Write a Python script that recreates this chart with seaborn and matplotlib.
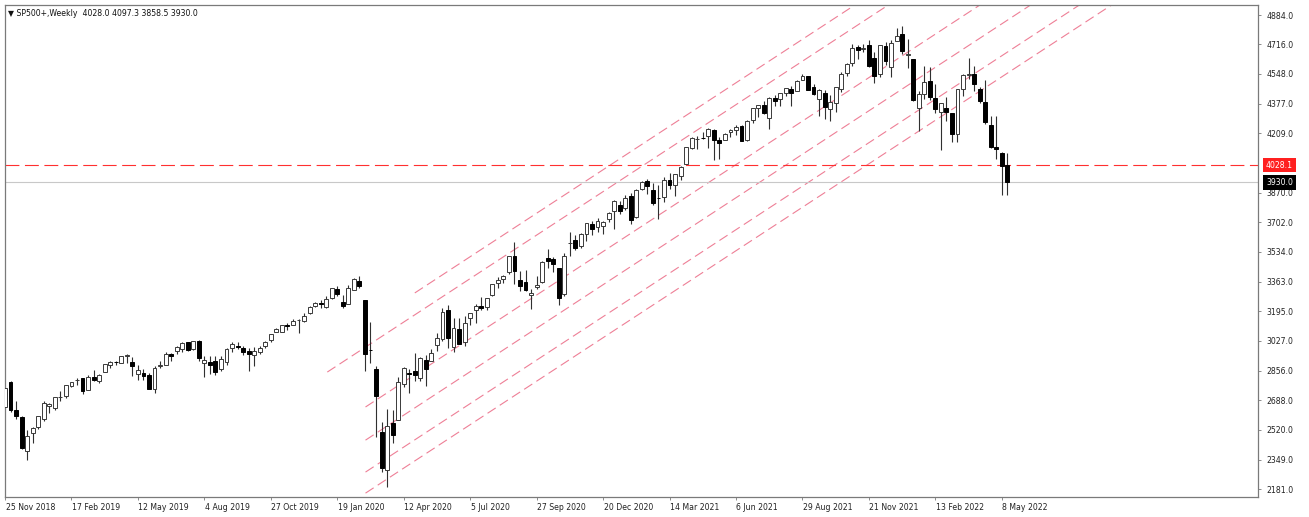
import numpy as np
import pandas as pd
import matplotlib
matplotlib.use("Agg")
import matplotlib.pyplot as plt
import matplotlib.transforms as mtransforms
import seaborn as sns

# ---------------- data (weekly candles, first week = 25 Nov 2018) ----------------
first_week = "2018-11-25"
opens = [2650, 2790, 2631, 2591, 2401, 2499, 2536, 2582, 2658, 2645,
         2706, 2712, 2769, 2804, 2814, 2748, 2823, 2796, 2849, 2888,
         2908, 2899, 2941, 2909, 2840, 2842, 2830, 2752, 2886, 2890,
         2951, 2971, 2980, 3018, 2982, 3024, 2898, 2907, 2913, 2867,
         2909, 2988, 2996, 2984, 2967, 2944, 2966, 2996, 3032, 3079,
         3080, 3118, 3117, 3144, 3142, 3184, 3226, 3240, 3218, 3271,
         3321, 3247, 3236, 3318, 3369, 3258, 2974, 2864, 2509, 2291,
         2559, 2578, 2782, 2846, 2855, 2815, 2915, 2914, 3004, 3039,
         3200, 2994, 3094, 3019, 3155, 3205, 3224, 3220, 3288, 3356,
         3381, 3418, 3510, 3372, 3364, 3286, 3334, 3360, 3500, 3494,
         3441, 3296, 3583, 3600, 3567, 3634, 3695, 3675, 3684, 3723,
         3765, 3803, 3782, 3852, 3731, 3893, 3940, 3886, 3843, 3844,
         3943, 3916, 3969, 4034, 4125, 4180, 4185, 4192, 4228, 4170,
         4170, 4217, 4229, 4249, 4173, 4285, 4356, 4372, 4296, 4410,
         4407, 4438, 4462, 4450, 4514, 4535, 4475, 4403, 4442, 4349,
         4385, 4464, 4554, 4611, 4701, 4689, 4712, 4640, 4548, 4710,
         4588, 4734, 4778, 4655, 4632, 4356, 4432, 4506, 4413, 4333,
         4354, 4323, 4203, 4462, 4541, 4548, 4462, 4386, 4255, 4131,
         4097, 4028.0]
highs = [2761, 2800, 2685, 2601, 2520, 2538, 2598, 2682, 2672, 2709,
         2743, 2776, 2795, 2813, 2817, 2831, 2860, 2836, 2893, 2911,
         2910, 2940, 2954, 2937, 2892, 2869, 2841, 2885, 2911, 2964,
         2955, 2996, 3018, 3018, 3028, 3029, 2943, 2943, 2939, 2940,
         2986, 3021, 3023, 2999, 2984, 2993, 3000, 3027, 3067, 3098,
         3120, 3128, 3154, 3151, 3183, 3226, 3248, 3258, 3283, 3330,
         3338, 3286, 3348, 3385, 3394, 3260, 3137, 2883, 2563, 2637,
         2632, 2819, 2879, 2869, 2955, 2934, 2944, 2980, 3069, 3212,
         3233, 3156, 3155, 3166, 3184, 3238, 3279, 3272, 3353, 3388,
         3400, 3509, 3588, 3426, 3429, 3320, 3394, 3482, 3550, 3502,
         3441, 3529, 3646, 3629, 3644, 3699, 3712, 3727, 3711, 3760,
         3827, 3824, 3861, 3871, 3894, 3937, 3950, 3929, 3915, 3960,
         3984, 3978, 4021, 4129, 4191, 4194, 4219, 4238, 4236, 4188,
         4213, 4234, 4255, 4257, 4286, 4355, 4372, 4394, 4415, 4430,
         4441, 4468, 4480, 4513, 4546, 4535, 4492, 4465, 4457, 4429,
         4475, 4559, 4608, 4719, 4714, 4718, 4744, 4673, 4714, 4732,
         4740, 4809, 4819, 4749, 4632, 4453, 4595, 4590, 4490, 4385,
         4417, 4327, 4465, 4546, 4637, 4593, 4471, 4513, 4308, 4308,
         4103, 4097.3]
lows = [2650, 2622, 2583, 2409, 2347, 2444, 2525, 2570, 2613, 2632,
        2682, 2701, 2765, 2775, 2722, 2747, 2800, 2786, 2849, 2873,
        2892, 2899, 2901, 2825, 2801, 2805, 2751, 2729, 2873, 2887,
        2912, 2952, 2963, 2970, 2977, 2914, 2822, 2840, 2835, 2856,
        2892, 2964, 2978, 2946, 2856, 2884, 2953, 2988, 3023, 3075,
        3078, 3091, 3117, 3070, 3134, 3182, 3222, 3212, 3215, 3268,
        3282, 3215, 3236, 3318, 3328, 2856, 2902, 2479, 2281, 2192,
        2447, 2578, 2765, 2727, 2798, 2798, 2767, 2914, 2969, 3025,
        2984, 2966, 3007, 3000, 3115, 3128, 3200, 3204, 3284, 3327,
        3355, 3410, 3350, 3310, 3313, 3209, 3323, 3354, 3440, 3419,
        3234, 3280, 3512, 3543, 3555, 3594, 3633, 3647, 3636, 3703,
        3663, 3749, 3774, 3694, 3725, 3884, 3865, 3804, 3723, 3819,
        3894, 3854, 3944, 4034, 4118, 4118, 4176, 4128, 4057, 4061,
        4170, 4188, 4198, 4164, 4164, 4271, 4300, 4318, 4233, 4363,
        4367, 4424, 4368, 4450, 4513, 4457, 4427, 4306, 4289, 4279,
        4329, 4447, 4537, 4595, 4631, 4672, 4585, 4495, 4532, 4600,
        4531, 4733, 4663, 4582, 4395, 4223, 4405, 4401, 4327, 4115,
        4279, 4158, 4162, 4424, 4518, 4450, 4381, 4262, 4124, 4063,
        3859, 3858.5]
closes = [2760, 2633, 2600, 2417, 2486, 2532, 2596, 2671, 2665, 2707,
          2708, 2776, 2793, 2804, 2743, 2822, 2801, 2834, 2893, 2907,
          2905, 2940, 2946, 2881, 2860, 2826, 2752, 2873, 2887, 2950,
          2942, 2990, 3014, 2977, 3026, 2932, 2919, 2889, 2847, 2926,
          2979, 3007, 2992, 2962, 2952, 2970, 2986, 3023, 3067, 3093,
          3120, 3110, 3141, 3146, 3169, 3221, 3240, 3235, 3265, 3330,
          3295, 3226, 3328, 3380, 3338, 2954, 2972, 2711, 2305, 2541,
          2489, 2790, 2875, 2837, 2831, 2930, 2864, 2955, 3044, 3194,
          3041, 3098, 3009, 3130, 3185, 3225, 3216, 3271, 3351, 3373,
          3397, 3508, 3427, 3341, 3319, 3298, 3348, 3477, 3484, 3465,
          3270, 3509, 3585, 3558, 3638, 3699, 3663, 3709, 3703, 3756,
          3825, 3768, 3841, 3714, 3887, 3935, 3907, 3811, 3842, 3943,
          3913, 3975, 4020, 4129, 4185, 4180, 4181, 4233, 4174, 4156,
          4204, 4230, 4247, 4166, 4281, 4352, 4370, 4327, 4412, 4395,
          4437, 4468, 4442, 4509, 4535, 4459, 4433, 4455, 4357, 4391,
          4471, 4545, 4605, 4698, 4683, 4698, 4595, 4538, 4712, 4621,
          4726, 4766, 4677, 4663, 4398, 4432, 4501, 4419, 4349, 4385,
          4329, 4204, 4463, 4543, 4546, 4488, 4393, 4272, 4132, 4123,
          4024, 3930.0]

x_labels = ["25 Nov 2018", "17 Feb 2019", "12 May 2019", "4 Aug 2019",
            "27 Oct 2019", "19 Jan 2020", "12 Apr 2020", "5 Jul 2020",
            "27 Sep 2020", "20 Dec 2020", "14 Mar 2021", "6 Jun 2021",
            "29 Aug 2021", "21 Nov 2021", "13 Feb 2022", "8 May 2022"]
y_ticks = [4884.0, 4716.0, 4548.0, 4377.0, 4209.0, 3870.0, 3702.0, 3534.0,
           3363.0, 3195.0, 3027.0, 2856.0, 2688.0, 2520.0, 2349.0, 2181.0]
header = "\u25BC SP500+,Weekly  4028.0 4097.3 3858.5 3930.0"
level_line = 4028.1
bid_price = 3930.0

# parallel channel lines: anchor week index, anchor price (slope shared)
chan_start_idx = [74.0, 58.2, 65.1, 65.1, 65.1, 65.1]
chan_start_price = [3300, 2849, 2650, 2461, 2279, 2159]
chan_slope = 20.65  # price per week

# ---------------- figure ----------------
sns.set_theme(style="white")
plt.rcParams["font.family"] = ["DejaVu Sans"]
plt.rcParams["lines.scale_dashes"] = False

W, H = 1309, 517
fig = plt.figure(figsize=(W / 100, H / 100), dpi=100, facecolor="white")
ax = fig.add_axes([5 / W, 20 / H, 1253 / W, 492 / H])
ax.set_facecolor("white")

df = pd.DataFrame({"open": opens, "high": highs, "low": lows, "close": closes})
df["idx"] = np.arange(len(df))
df["date"] = pd.date_range(first_week, periods=len(df), freq="7D")
bull = df["close"] >= df["open"]

px_per_bar = 5.54
ax.set_xlim((5 - 4.5) / px_per_bar, (1258 - 4.5) / px_per_bar)
ax.set_ylim(2137, 4941)

# wicks
ax.vlines(df["idx"], df["low"], df["high"], color="#303030", lw=0.8, zorder=2)
# bodies
ax.bar(df["idx"][bull], (df["close"] - df["open"])[bull], bottom=df["open"][bull],
       width=0.7, facecolor="white", edgecolor="#3a3a3a", lw=0.7, zorder=3)
ax.bar(df["idx"][~bull], (df["close"] - df["open"])[~bull], bottom=df["open"][~bull],
       width=0.7, facecolor="black", edgecolor="black", lw=0.7, zorder=3)

# channel lines
for s_i, s_p in zip(chan_start_idx, chan_start_price):
    e_i = s_i + 160
    ax.plot([s_i, e_i], [s_p, s_p + chan_slope * (e_i - s_i)], color="#EE7F96",
            lw=0.8, dashes=(7, 3.5), zorder=1)

# horizontal level and bid line
ax.axhline(level_line, color="#FF3030", lw=0.8, dashes=(10, 4), zorder=1)
ax.axhline(bid_price, color="#C8C8C8", lw=0.8, zorder=1)

# axes styling
for sp in ax.spines.values():
    sp.set_color("#7A7A7A")
    sp.set_linewidth(0.9)

ax.yaxis.tick_right()
ax.set_yticks(y_ticks)
ax.set_yticklabels([f"{v:.1f}" for v in y_ticks])
ax.tick_params(axis="y", right=True, direction="out", length=2.5, width=0.6,
               color="#7A7A7A", pad=3.5, labelsize=5.6, labelcolor="#222222")

ax.set_xticks(np.arange(0, 181, 12))
ax.set_xticklabels(x_labels)
ax.tick_params(axis="x", bottom=True, direction="out", length=2.5, width=0.6,
               color="#7A7A7A", pad=1.5, labelsize=5.6, labelcolor="#222222")
shift = mtransforms.ScaledTranslation(0.5 / 100, 0, fig.dpi_scale_trans)
for lab in ax.get_xticklabels():
    lab.set_horizontalalignment("left")
    lab.set_transform(lab.get_transform() + shift)

# price tags on the right axis
tag_tr = mtransforms.blended_transform_factory(ax.transAxes, ax.transData)
for val, fc in [(level_line, "#FF2020"), (bid_price, "black")]:
    ax.text(1.0 + 8 / 1253, val, f"{val:.1f}", transform=tag_tr,
            ha="left", va="center", fontsize=5.6, color="white",
            bbox=dict(boxstyle="square,pad=0.35", fc=fc, ec="none"))

# header
ax.text(3 / 1253, 1 - 4 / 492, header, transform=ax.transAxes, ha="left",
        va="top", fontsize=5.6, color="#111111")

fig.savefig("out.png", dpi=100, facecolor="white")
